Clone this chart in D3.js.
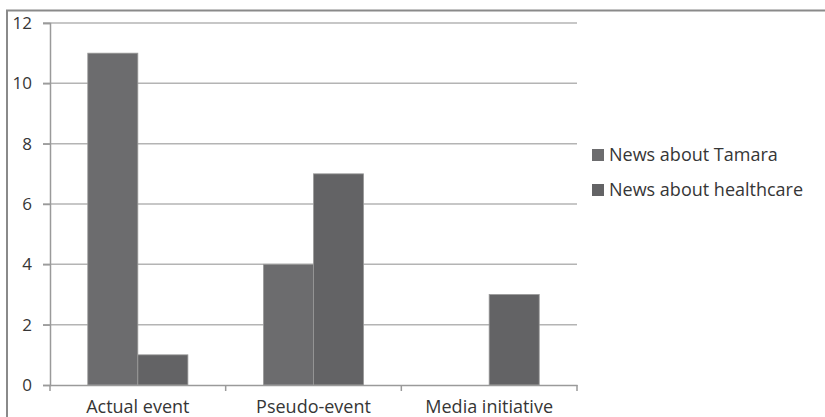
<!DOCTYPE html>
<html>
<head>
<meta charset="utf-8">
<script src="https://cdn.jsdelivr.net/npm/d3@7"></script>
<style>
  html, body { margin: 0; padding: 0; background: #fff; }
  svg { display: block; }
  text { font-family: "Open Sans", Lato, sans-serif; fill: #363636; }
</style>
</head>
<body>
<svg id="chart" width="825" height="417"></svg>
<script>
// Story types and counts per news topic
const categories = ["Actual event", "Pseudo-event", "Media initiative"];
const seriesNames = ["News about Tamara", "News about healthcare"];
const tamara = [11, 4, 0];
const healthcare = [1, 7, 3];
const yTicks = [0, 2, 4, 6, 8, 10, 12];
const colors = ["#6c6c6e", "#636365"];

const svg = d3.select("#chart");
const W = 825, H = 417;
const m = { left: 50, right: 248, top: 23, bottom: 32 };
const plotW = W - m.left - m.right;
const plotH = H - m.top - m.bottom;

// outer frame (top and left edges sit inside the view)
svg.append("rect")
  .attr("x", 7).attr("y", 10.5)
  .attr("width", W).attr("height", H)
  .attr("fill", "none").attr("stroke", "#8a8a8a").attr("stroke-width", 2);

const g = svg.append("g").attr("transform", `translate(${m.left},${m.top})`);

const x0 = d3.scaleBand().domain(categories).range([0, plotW]).paddingInner(0).paddingOuter(0);
const groupW = x0.bandwidth() * 0.57;
const x1 = d3.scaleBand().domain(seriesNames).range([0, groupW]).padding(0);
const y = d3.scaleLinear().domain([0, 12]).range([plotH, 0]);

// gridlines
g.append("g")
  .selectAll("line")
  .data(yTicks.filter(t => t > 0))
  .join("line")
  .attr("x1", -7).attr("x2", plotW)
  .attr("y1", d => y(d)).attr("y2", d => y(d))
  .attr("stroke", "#b4b4b4").attr("stroke-width", 1.5);

// bars
const data = categories.map((c, i) => ({ c, vals: [tamara[i], healthcare[i]] }));
const groups = g.append("g").selectAll("g")
  .data(data).join("g")
  .attr("transform", d => `translate(${x0(d.c) + (x0.bandwidth() - groupW) / 2},0)`);
groups.selectAll("rect")
  .data(d => d.vals.map((v, k) => ({ k, v })).filter(e => e.v > 0))
  .join("rect")
  .attr("x", e => x1(seriesNames[e.k]))
  .attr("y", e => y(e.v))
  .attr("width", x1.bandwidth())
  .attr("height", e => plotH - y(e.v))
  .attr("fill", e => colors[e.k])
  .attr("stroke", "#9a9a9a").attr("stroke-width", 0.8);

// y axis
const yAxis = g.append("g")
  .call(d3.axisLeft(y).tickValues(yTicks).tickSize(7).tickPadding(11).tickFormat(d3.format("d")));
yAxis.select(".domain").attr("stroke", "#9a9a9a").attr("stroke-width", 1.5);
yAxis.selectAll(".tick line").attr("stroke", "#9a9a9a").attr("stroke-width", 1.5);
yAxis.selectAll(".tick text").style("font-size", "17px").style("fill", "#363636")
  .style("font-family", "'Open Sans', sans-serif");

// x axis
const xAxis = g.append("g").attr("transform", `translate(0,${plotH})`)
  .call(d3.axisBottom(x0).tickSize(0).tickPadding(15));
xAxis.select(".domain").attr("stroke", "#9a9a9a").attr("stroke-width", 1.5);
xAxis.selectAll(".tick text").style("font-size", "18px").style("fill", "#363636")
  .style("font-family", "'Open Sans', sans-serif");
// category separators
xAxis.append("g").selectAll("line")
  .data(d3.range(categories.length + 1))
  .join("line")
  .attr("x1", i => i * x0.bandwidth()).attr("x2", i => i * x0.bandwidth())
  .attr("y1", 0).attr("y2", 6)
  .attr("stroke", "#9a9a9a").attr("stroke-width", 1.5);

// legend
const legend = svg.append("g").attr("transform", "translate(592,0)");
const rows = legend.selectAll("g").data(seriesNames).join("g")
  .attr("transform", (d, i) => `translate(0,${155 + i * 35})`);
rows.append("rect").attr("x", 0).attr("y", -6).attr("width", 12).attr("height", 12)
  .attr("fill", (d, i) => colors[i]);
rows.append("text").attr("x", 17).attr("y", 0).attr("dy", "0.35em")
  .style("font-size", "18px").text(d => d);
</script>
</body>
</html>
